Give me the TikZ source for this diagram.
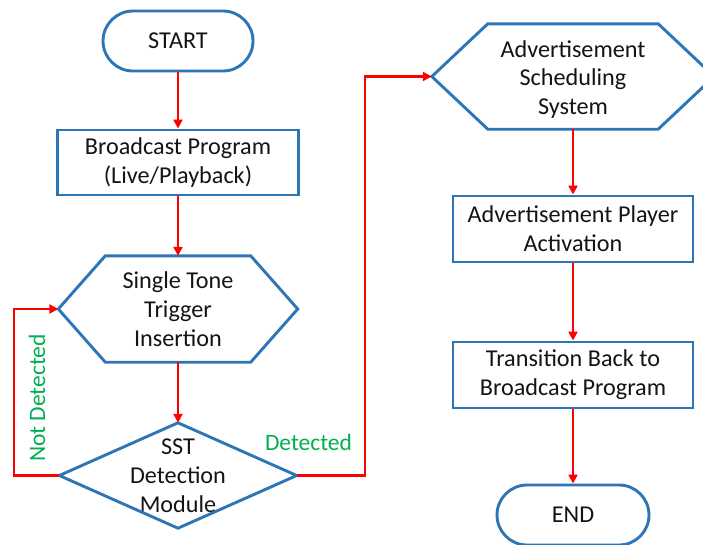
\documentclass[tikz,border=0pt]{standalone}
\usepackage{fontspec}
\setmainfont{Carlito}
\usetikzlibrary{arrows.meta}
\definecolor{edgeblue}{RGB}{46,117,182}
\definecolor{flowred}{RGB}{255,0,0}
\definecolor{labelgreen}{RGB}{0,176,80}
\definecolor{txt}{RGB}{20,20,20}
\tikzset{
  base/.style={inner sep=0pt, align=center, text=txt,
    font=\fontsize{24.2}{28.8}\selectfont},
  terminal/.style={base, draw=edgeblue, line width=2.9pt, rounded corners=30pt},
  procbox/.style={base, draw=edgeblue, line width=2.9pt},
  frame/.style={base, draw=none},
  outline/.style={draw=edgeblue, line width=2.9pt, line join=miter},
  flow/.style={draw=flowred, line width=2.5pt,
    -{Triangle[length=9pt,width=9pt]}},
  tag/.style={text=labelgreen, font=\fontsize{23.5}{28.5}\selectfont, inner sep=0pt}
}
\begin{document}
\begin{tikzpicture}[x=1pt,y=-1pt]
\useasboundingbox (0,0) rectangle (703,544);

% nodes of the left column
\node[terminal, minimum width=150pt, minimum height=60pt] (start) at (178,41) {START};
\node[procbox, minimum width=241pt, minimum height=65pt] (bp) at (178,162.5)
  {Broadcast Program\\(Live/Playback)};
\node[frame, minimum width=239pt, minimum height=106pt] (h1) at (178,309)
  {Single Tone\\Trigger\\Insertion};
\node[frame, minimum width=237pt, minimum height=105pt] (dm) at (178,475.5)
  {SST\\Detection\\Module};

% nodes of the right column (hexagon text sits a little low in its frame)
\node[frame, minimum width=282pt, minimum height=105pt] (h2) at (573,76.5) {};
\node[base] (h2t) at (573,79.5) {Advertisement\\Scheduling\\System};
\node[procbox, minimum width=240pt, minimum height=66pt] (ap) at (573,229)
  {Advertisement Player\\Activation};
\node[procbox, minimum width=240pt, minimum height=66pt] (tb) at (573,375)
  {Transition Back to\\Broadcast Program};
\node[terminal, minimum width=152pt, minimum height=60pt] (end) at (573,515) {END};

% hexagon and diamond outlines
\draw[outline] (h1.west) -- ([xshift=47pt]h1.north west) -- ([xshift=-47pt]h1.north east)
  -- (h1.east) -- ([xshift=-47pt]h1.south east) -- ([xshift=47pt]h1.south west) -- cycle;
\draw[outline] (h2.west) -- ([xshift=56pt]h2.north west) -- ([xshift=-56pt]h2.north east)
  -- (h2.east) -- ([xshift=-56pt]h2.south east) -- ([xshift=56pt]h2.south west) -- cycle;
\draw[outline] (dm.north) -- (dm.east) -- (dm.south) -- (dm.west) -- cycle;

% routing columns of the two branches
\coordinate (loopx) at (14,0);
\coordinate (yesx) at (365,0);

% connectors
\draw[flow] (start.south) -- (bp.north);
\draw[flow] (bp.south) -- (h1.north);
\draw[flow] (h1.south) -- (dm.north);
\draw[flow] (dm.west) -- (dm.west -| loopx) |- (h1.west);
\draw[flow] (dm.east) -- (dm.east -| yesx) |- (h2.west);
\draw[flow] (h2.south) -- (ap.north);
\draw[flow] (ap.south) -- (tb.north);
\draw[flow] (tb.south) -- (end.north);

% branch labels
\node[tag, rotate=90] (nd) at (37,398) {Not Detected};
\node[tag] (det) at (308.5,442) {Detected};
\end{tikzpicture}
\end{document}
